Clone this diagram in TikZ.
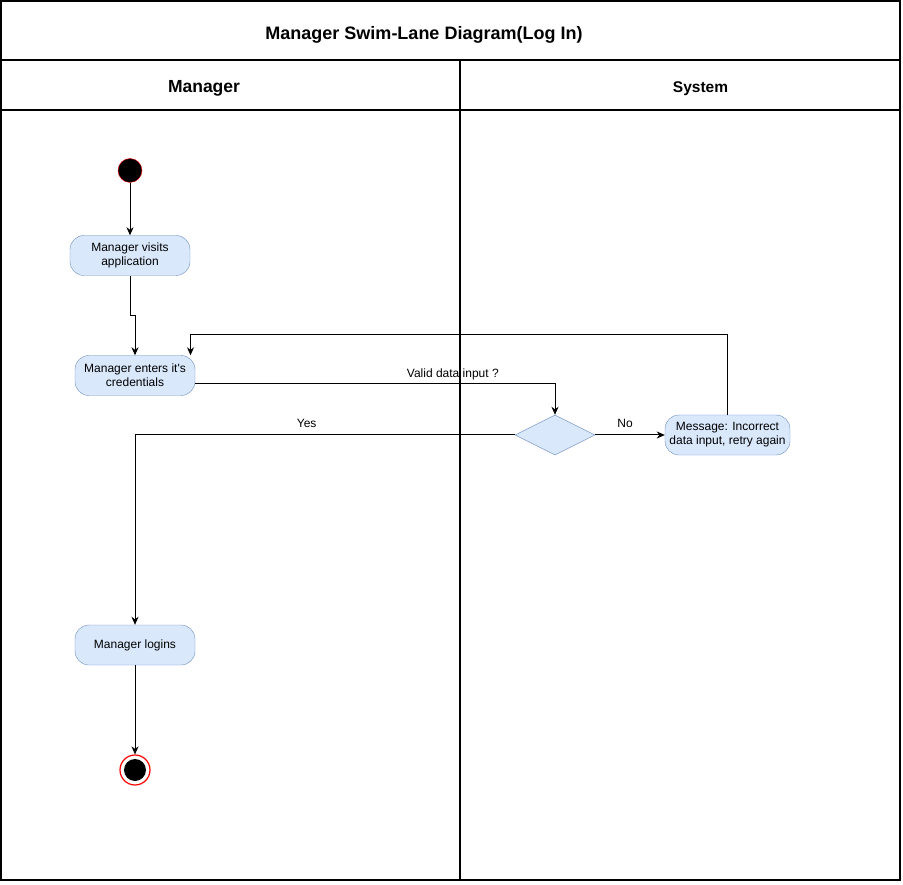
\documentclass[tikz,border=0pt]{standalone}
\usepackage{fontspec}
\setmainfont{Liberation Sans}
\usepackage{xcolor}
\usetikzlibrary{arrows.meta, shapes.geometric, positioning}
\definecolor{actfill}{HTML}{DAE8FC}
\definecolor{actline}{HTML}{6C8EBF}

\begin{document}
\begin{tikzpicture}[x=1pt,y=-1pt,
    lane/.style={line width=1.1pt},
    act/.style={draw=actline,fill=actfill,rounded corners=14pt,minimum width=120pt,minimum height=40pt,
        align=center,inner sep=2pt,font=\fontsize{12}{14}\selectfont},
    flow/.style={line width=1pt,-{Stealth[length=8pt,width=7pt,inset=2.5pt]}},
    lbl/.style={inner sep=0pt,text depth=0pt,font=\fontsize{12}{14}\selectfont}]
\useasboundingbox (0,0) rectangle (903,885);
\draw[lane] (1,1) rectangle (900,880);
\draw[lane] (1,60) -- (900,60) (1,110) -- (900,110) (460,60) -- (460,880);
\node[anchor=base,font=\bfseries\fontsize{18}{20}\selectfont] (title) at (424,39.5) {Manager Swim-Lane Diagram(Log In)};
\node[anchor=base,font=\bfseries\fontsize{17.5}{20}\selectfont] (mgr) at (204,93) {Manager};
\node[anchor=base,font=\bfseries\fontsize{15.5}{18}\selectfont] (sys) at (700.5,93) {System};

\node[circle,draw=red,fill=black,minimum size=24pt,inner sep=0pt] (start) at (130,170.5) {};
\node[act] (visits) at (130,255.5) {Manager visits\\application};
\node[act] (enters) at (135,375.5) {Manager enters it\textquotesingle s\\credentials};
\node[diamond,draw=actline,fill=actfill,minimum width=80pt,minimum height=40pt,inner sep=0pt] (decide) at (555,435) {};
\node[act,minimum width=125pt] (retry) at (727.5,435) {Message: Incorrect\\data input, retry again};
\node[act] (logins) at (135,645) {Manager logins};
\node[circle,draw=red,line width=1.2pt,fill=white,minimum size=30pt,inner sep=0pt] (finish) at (135,770) {};
\fill (finish.center) circle (11);

\path[flow]
(start) edge (visits)
(logins) edge (finish);
\draw[flow] (visits.south) -- ++(0,40) -| (enters.north);
\draw[flow] ([yshift=-8.5pt]enters.east) -| node[lbl,pos=0.358,above=6pt] {Valid data input ?} (decide.north);
\draw[flow] (decide.east) -- node[lbl,pos=0.43,above=6.5pt] {No} (retry.west);
\draw[flow] (retry.north) -- ++(0,-80) -| ([xshift=55.5pt]enters.north);
\draw[flow] (decide.west) -| node[lbl,pos=0.274,above=6.5pt] {Yes} (logins.north);
\end{tikzpicture}
\end{document}
